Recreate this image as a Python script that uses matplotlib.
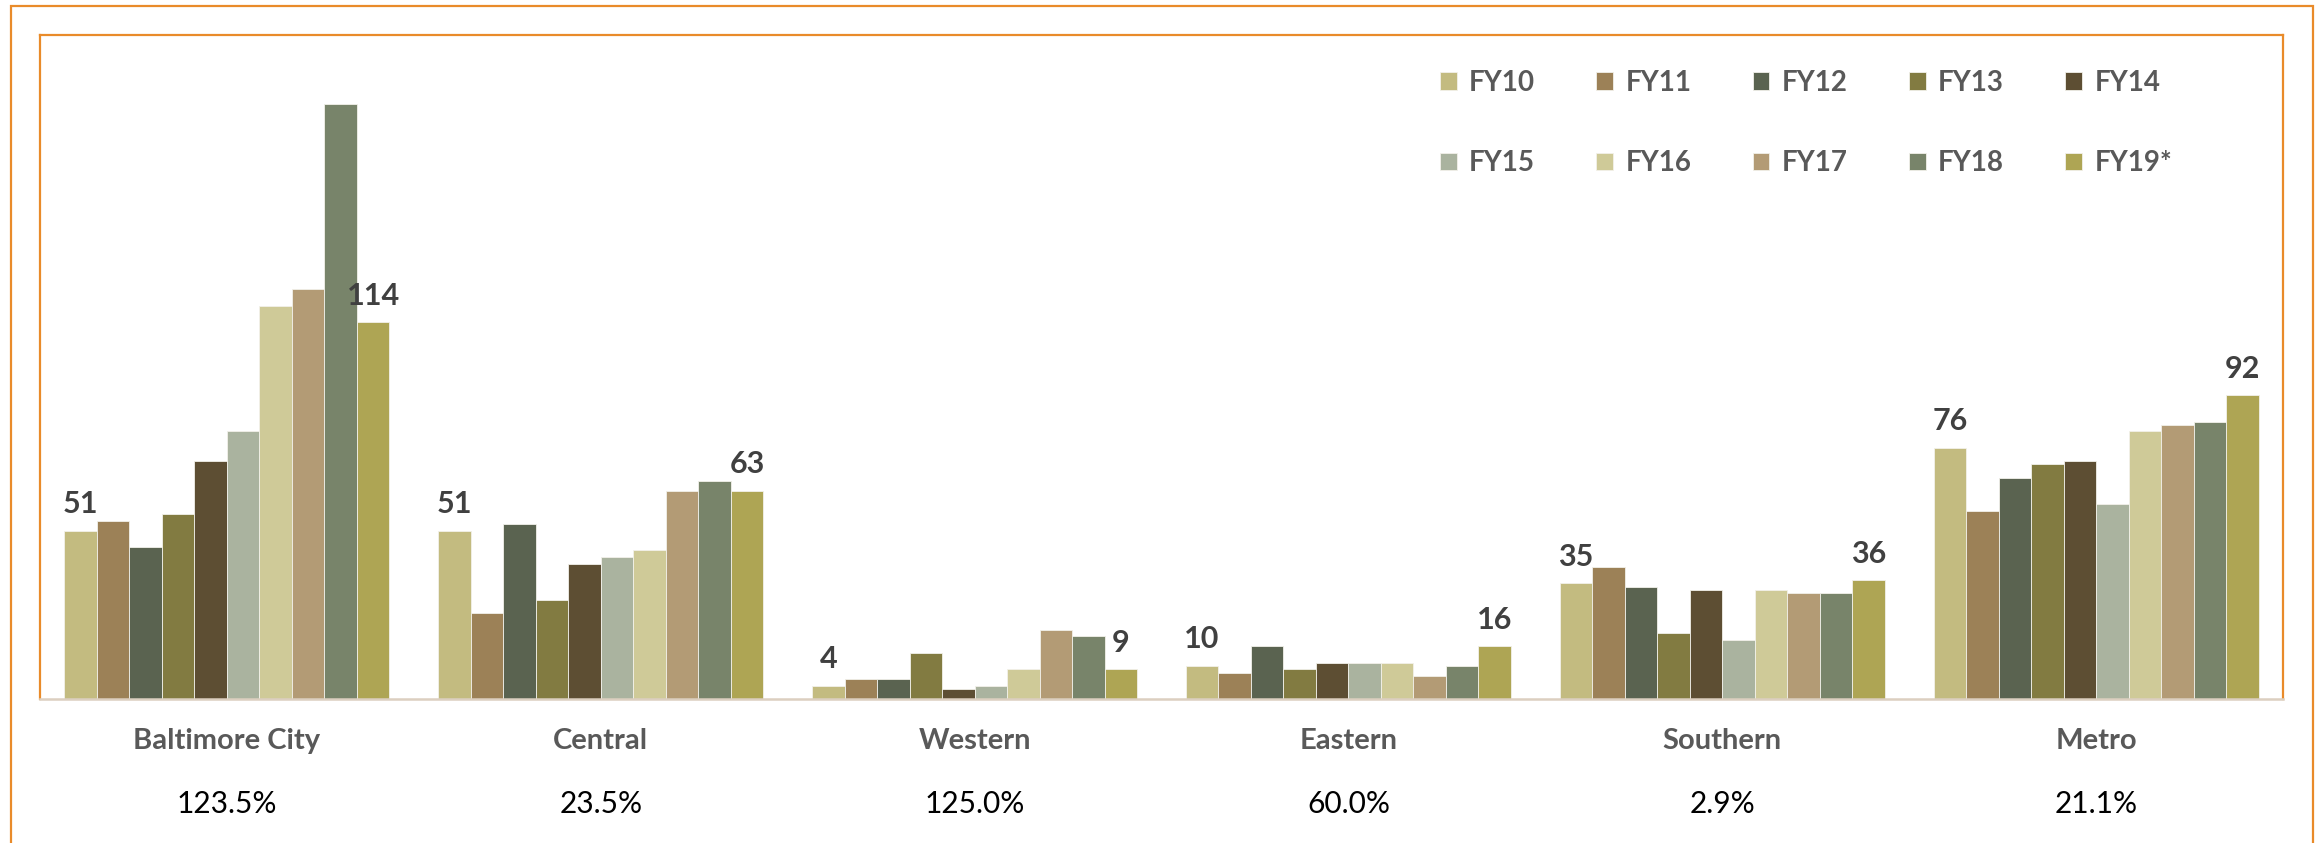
import matplotlib
matplotlib.use('Agg')
import matplotlib.pyplot as plt
import numpy as np
from matplotlib.patches import Rectangle

# ---------------- data ----------------
regions = ["Baltimore City", "Central", "Western", "Eastern", "Southern", "Metro"]
fiscal_years = ["FY10", "FY11", "FY12", "FY13", "FY14",
                "FY15", "FY16", "FY17", "FY18", "FY19*"]

baltimore_city = [51, 54, 46, 56, 72, 81, 119, 124, 180, 114]
central        = [51, 26, 53, 30, 41, 43, 45, 63, 66, 63]
western        = [4, 6, 6, 14, 3, 4, 9, 21, 19, 9]
eastern        = [10, 8, 16, 9, 11, 11, 11, 7, 10, 16]
southern       = [35, 40, 34, 20, 33, 18, 33, 32, 32, 36]
metro          = [76, 57, 67, 71, 72, 59, 81, 83, 84, 92]

pct_change = ["123.5%", "23.5%", "125.0%", "60.0%", "2.9%", "21.1%"]

colors = ["#c3bb80", "#9c8157", "#5a6350", "#827b41", "#5d4e33",
          "#aab39f", "#cfca98", "#b39b75", "#78846a", "#aea554"]

# ---------------- styling ----------------
plt.rcParams['font.family'] = ['Lato', 'DejaVu Sans']
ORANGE = "#e98b2a"

W, H = 2320, 843
fig = plt.figure(figsize=(W / 100, H / 100), dpi=100)
ax = fig.add_axes([40 / W, 1 - 699 / H, (2283 - 40) / W, (699 - 35) / H])

values = np.array([baltimore_city, central, western, eastern, southern, metro])
x = np.arange(len(regions))
n = len(fiscal_years)
w = 1 / (n + 1.5)

handles = []
for j in range(n):
    bars = ax.bar(x + (j - (n - 1) / 2) * w, values[:, j], width=w,
                  color=colors[j], edgecolor="#f2f1ea", linewidth=0.6,
                  label=fiscal_years[j])
    handles.append(bars)
    if j == 0 or j == n - 1:
        ax.bar_label(bars, padding=9, fontsize=22, fontweight='bold',
                     color='#404040')

ax.set_xlim(-0.5, len(regions) - 0.5)
ax.set_ylim(0, 201)
ax.set_xticks(x, regions, fontsize=21, fontweight='bold', color='#595959')
ax.tick_params(axis='x', length=0, pad=21)
ax.set_yticks([])

for s in ['left', 'top', 'right']:
    ax.spines[s].set_color(ORANGE)
    ax.spines[s].set_linewidth(1.6)
ax.spines['bottom'].set_color('#dccfc0')
ax.spines['bottom'].set_linewidth(1.8)

for i, p in enumerate(pct_change):
    ax.text(x[i], -0.158, p, transform=ax.get_xaxis_transform(),
            ha='center', va='center', fontsize=21.5, color='black')

order = [0, 5, 1, 6, 2, 7, 3, 8, 4, 9]
leg = ax.legend([handles[i] for i in order], [fiscal_years[i] for i in order],
                ncol=5, loc='upper left',
                bbox_to_anchor=(1440 / W, 1 - 70 / H),
                bbox_transform=fig.transFigure, frameon=False,
                handlelength=0.6, handleheight=0.6, handletextpad=0.45,
                columnspacing=2.2, labelspacing=1.95, borderpad=0,
                borderaxespad=0, prop={'weight': 'bold', 'size': 20})
for t in leg.get_texts():
    t.set_color('#595959')

# outer frame
fig.add_artist(Rectangle((11 / W, -0.02), (2313 - 11) / W, (H - 6) / H + 0.02,
                         transform=fig.transFigure, fill=False,
                         edgecolor=ORANGE, linewidth=1.6, clip_on=False))

fig.savefig('out.png', dpi=100)
